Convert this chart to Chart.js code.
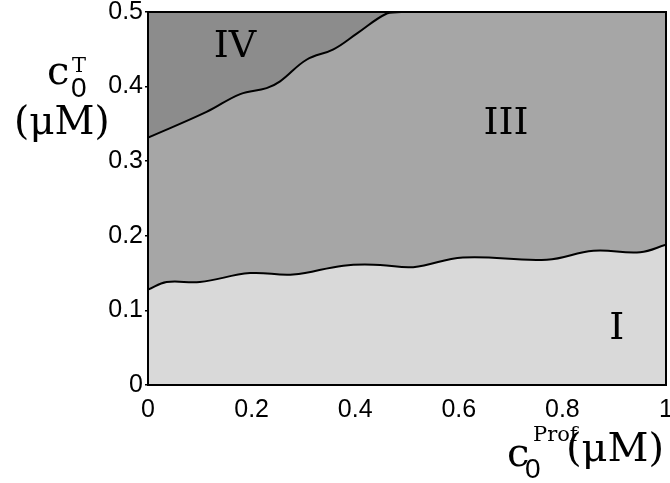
<!DOCTYPE html>
<html>
<head>
<meta charset="utf-8">
<script src="https://cdn.jsdelivr.net/npm/chart.js@4.4.1/dist/chart.umd.min.js"></script>
<style>
  html, body { margin: 0; padding: 0; background: #fff; }
</style>
</head>
<body>
<canvas id="chart" width="670" height="483"></canvas>
<script>
// boundary between region I and III
const lowerX = [0, 0.036, 0.1, 0.197, 0.28, 0.377, 0.448, 0.512, 0.608, 0.77, 0.86, 0.95, 1.0]
const lowerY = [0.128, 0.138, 0.138, 0.150, 0.148, 0.160, 0.161, 0.158, 0.171, 0.168, 0.180, 0.178, 0.188]

// boundary between region III and IV
const upperX = [0, 0.113, 0.178, 0.229, 0.255, 0.306, 0.358, 0.403, 0.461, 0.49, 1.0]
const upperY = [0.3315, 0.366, 0.390, 0.398, 0.407, 0.436, 0.450, 0.471, 0.498, 0.5, 0.5]

const xTicks = [0, 0.2, 0.4, 0.6, 0.8, 1]
const yTicks = [0, 0.1, 0.2, 0.3, 0.4, 0.5]

// region labels (data coords)
const regionNames = ['I', 'III', 'IV']
const regionX = [0.905, 0.691, 0.168]
const regionY = [0.075, 0.35, 0.453]

const serif = '"DejaVu Serif", serif'
const sans = '"Liberation Sans", Arial, sans-serif'

function pts(xs, ys) {
    return xs.map((x, i) => ({x: x, y: ys[i]}))
}

// dark grey behind everything = region IV
const areaBg = {
    id: 'areaBg',
    beforeDraw(chart) {
        const {ctx, chartArea: a} = chart
        ctx.save()
        ctx.fillStyle = '#8c8c8c'
        ctx.fillRect(a.left, a.top, a.right - a.left, a.bottom - a.top)
        ctx.restore()
    }
}

const frame = {
    id: 'frame',
    afterDatasetsDraw(chart) {
        const {ctx, chartArea: a} = chart
        ctx.save()
        ctx.strokeStyle = '#000'
        ctx.lineWidth = 2
        ctx.strokeRect(a.left, a.top, a.right - a.left, a.bottom - a.top)
        ctx.restore()
    }
}

const labels = {
    id: 'labels',
    afterDraw(chart) {
        const ctx = chart.ctx
        const xs = chart.scales.x, ys = chart.scales.y
        ctx.save()
        ctx.fillStyle = '#000'
        ctx.textAlign = 'center'
        ctx.textBaseline = 'middle'
        ctx.font = '38px ' + serif
        for (let i = 0; i < regionNames.length; i++) {
            ctx.fillText(regionNames[i], xs.getPixelForValue(regionX[i]), ys.getPixelForValue(regionY[i]))
        }

        // y title: c_0^T (μM)
        ctx.textAlign = 'left'
        ctx.textBaseline = 'alphabetic'
        ctx.font = '40px ' + serif
        ctx.fillText('c', 47, 84)
        ctx.font = '21px ' + serif
        ctx.fillText('T', 72, 72)
        ctx.font = '28px ' + sans
        ctx.fillText('0', 71, 97)
        ctx.font = '39px ' + serif
        ctx.fillText('(μM)', 14, 134)

        // x title: c_0^Prof (μM)
        ctx.font = '40px ' + serif
        ctx.fillText('c', 507, 466)
        ctx.font = '21px ' + serif
        ctx.fillText('Prof', 533, 441)
        ctx.font = '28px ' + sans
        ctx.fillText('0', 525, 478)
        ctx.font = '40px ' + serif
        ctx.fillText('(μM)', 566, 461)
        ctx.restore()
    }
}

new Chart(document.getElementById('chart'), {
    type: 'line',
    data: {
        datasets: [{
            label: 'I / III',
            data: pts(lowerX, lowerY),
            borderColor: '#000',
            borderWidth: 2,
            backgroundColor: '#d9d9d9',
            fill: 'origin',
            pointRadius: 0,
            tension: 0.4
        }, {
            label: 'III / IV',
            data: pts(upperX, upperY),
            borderColor: '#000',
            borderWidth: 2,
            backgroundColor: '#a6a6a6',
            fill: 'origin',
            pointRadius: 0,
            tension: 0.4
        }]
    },
    options: {
        responsive: false,
        animation: false,
        layout: {padding: {top: 12, right: 4, left: 0, bottom: 0}},
        plugins: {legend: {display: false}, tooltip: {enabled: false}},
        scales: {
            x: {
                type: 'linear', min: 0, max: 1,
                afterBuildTicks: s => { s.ticks = xTicks.map(v => ({value: v})) },
                afterFit: s => { s.height = 98; s.paddingLeft = 0; s.paddingRight = 0 },
                grid: {display: true, drawOnChartArea: false, drawTicks: false},
                border: {display: true, color: '#000', width: 2},
                ticks: {
                    color: '#000', padding: 10, maxRotation: 0, autoSkip: false,
                    font: {family: sans, size: 25},
                    callback: v => String(v)
                }
            },
            y: {
                type: 'linear', min: 0, max: 0.5,
                afterBuildTicks: s => { s.ticks = yTicks.map(v => ({value: v})) },
                afterFit: s => { s.width = 148; s.paddingTop = 0; s.paddingBottom = 0 },
                grid: {display: true, drawOnChartArea: false, drawTicks: true, tickLength: 3, color: '#000', lineWidth: 1.5},
                border: {display: true, color: '#000', width: 2},
                ticks: {
                    color: '#000', padding: 2, autoSkip: false,
                    font: {family: sans, size: 25},
                    callback: v => String(v)
                }
            }
        }
    },
    plugins: [areaBg, frame, labels]
})
</script>
</body>
</html>
